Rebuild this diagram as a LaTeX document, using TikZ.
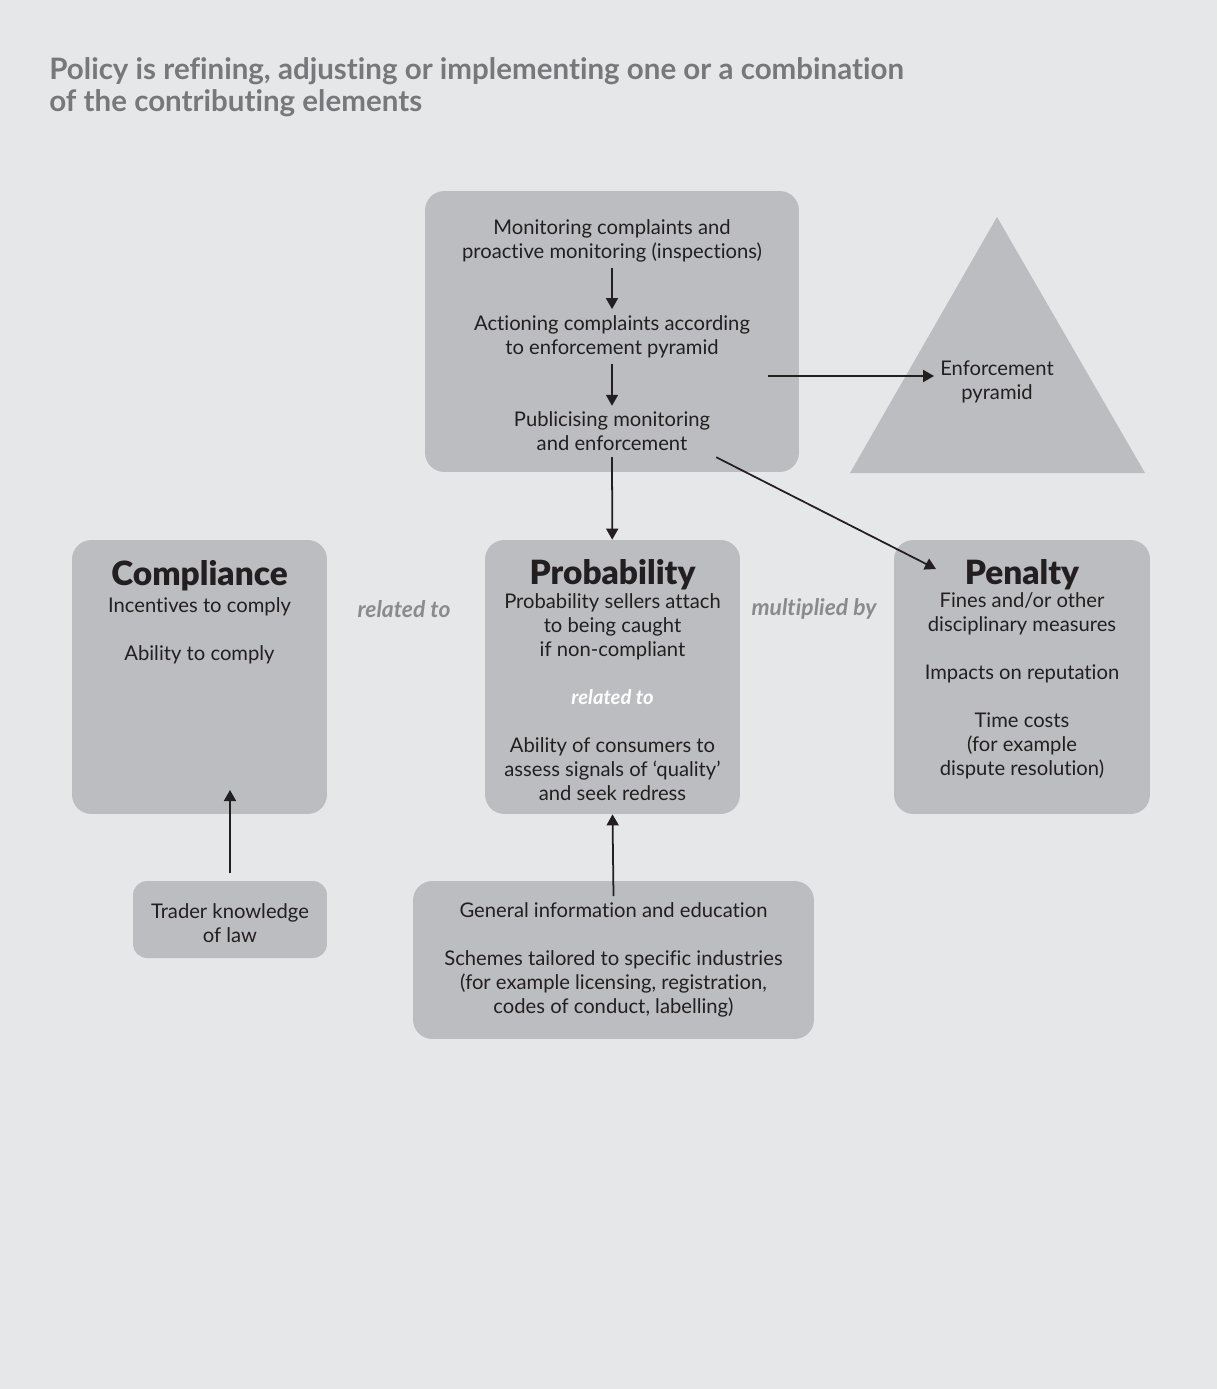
\documentclass[tikz,border=0pt]{standalone}
\usepackage{fontspec}
\setmainfont{Lato}[Ligatures=NoCommon]
\newfontfamily\heavyfont{Lato}[UprightFont=*-Black, Ligatures=NoCommon]
\usetikzlibrary{arrows.meta}
\definecolor{bggrey}{HTML}{E6E7E8}
\definecolor{boxgrey}{HTML}{BCBDC0}
\definecolor{titlegrey}{HTML}{77787B}
\definecolor{relgrey}{HTML}{8A8B8D}
\definecolor{ink}{HTML}{231F20}
\tikzset{
  box/.style={fill=boxgrey, rounded corners=11pt, inner sep=0pt},
  txt/.style={align=center, text=ink, font=\fontsize{11.5}{13.66}\selectfont},
  head/.style={text=ink, font=\fontsize{19}{22}\selectfont\heavyfont},
  rel/.style={text=relgrey, font=\fontsize{13}{15}\selectfont\bfseries\itshape},
  arr/.style={line width=1pt, draw=ink, -{Triangle[length=2.2mm,width=2.4mm]}}
}

\begin{document}
\begin{tikzpicture}[x=0.02cm, y=-0.02cm]
    \fill [bggrey] (0,0) rectangle (1217,1389);
    \node [anchor=north west, inner sep=0pt, align=left, text=titlegrey,
      font=\fontsize{16.8}{18.2}\selectfont\bfseries] (title) at (49,57)
      {Policy is refining, adjusting or implementing one or a combination\\of the contributing elements};

    % boxes
    \node [box, minimum width=7.48cm, minimum height=5.62cm] (watch) at (612,331.5) {};
    \node [box, minimum width=5.1cm, minimum height=5.48cm] (compliance) at (199.5,677) {};
    \node [box, minimum width=5.1cm, minimum height=5.48cm] (probability) at (612.5,677) {};
    \node [box, minimum width=5.12cm, minimum height=5.48cm] (penalty) at (1022,677) {};
    \node [box, rounded corners=8pt, minimum width=3.88cm, minimum height=1.54cm] (trader) at (230,919.5) {};
    \node [box, minimum width=8.02cm, minimum height=3.16cm] (info) at (613.5,960) {};
    \fill [boxgrey] (997,217) -- (1145,473) -- (850,473) -- cycle;

    % top box
    \node [txt] (monitor) at (612,240.5) {Monitoring complaints and\\proactive monitoring (inspections)};
    \node [txt] (action) at (612,336.5) {Actioning complaints according\\to enforcement pyramid};
    \node [txt] (publicise) at (612,431.5) {Publicising monitoring\\and enforcement};
    \node [txt] (pyrlabel) at (997,381.5) {Enforcement\\pyramid};

    % middle row
    \node [head] (complhead) at (199.5,576) {Compliance};
    \node [txt] (compltext) at (199.5,630.5) {Incentives to comply\\[13.66pt]Ability to comply};
    \node [head] (probhead) at (612.5,575) {Probability};
    \node [txt] (probtext) at (612.5,697) {Probability sellers attach\\to being caught\\if non-compliant\\[13.66pt]
      {\color{white}\bfseries\itshape related to}\\[13.66pt]Ability of consumers to\\assess signals of `quality'\\and seek redress};
    \node [head] (penhead) at (1022,575) {Penalty};
    \node [txt] (pentext) at (1022,685.5) {Fines and/or other\\disciplinary measures\\[13.66pt]Impacts on reputation\\[13.66pt]
      Time costs\\(for example\\dispute resolution)};
    \node [rel] (relleft) at (404,609) {related to};
    \node [rel] (multby) at (814,609) {multiplied by};

    % bottom row
    \node [txt] (tradertext) at (230,923.5) {Trader knowledge\\of law};
    \node [txt] (infotext) at (613.5,959.5) {General information and education\\[13.66pt]
      Schemes tailored to specific industries\\(for example licensing, registration,\\codes of conduct, labelling)};

    \coordinate (complin) at (230,790);
    \coordinate (penin) at (936,569);
    \coordinate (watchout) at (768,376);

    \draw [arr] (monitor) -- (action);
    \draw [arr] (action) -- (publicise);
    \draw [arr] (publicise) -- (probability);
    \draw [arr] (watchout) -- (pyrlabel.west |- watchout);
    \draw [arr] (publicise.south east) -- (penin);
    \draw [arr, shorten <=0.16cm] (trader.north) -- (complin);
    \draw [arr] (infotext.north) -- (probability.south);
\end{tikzpicture}
\end{document}
